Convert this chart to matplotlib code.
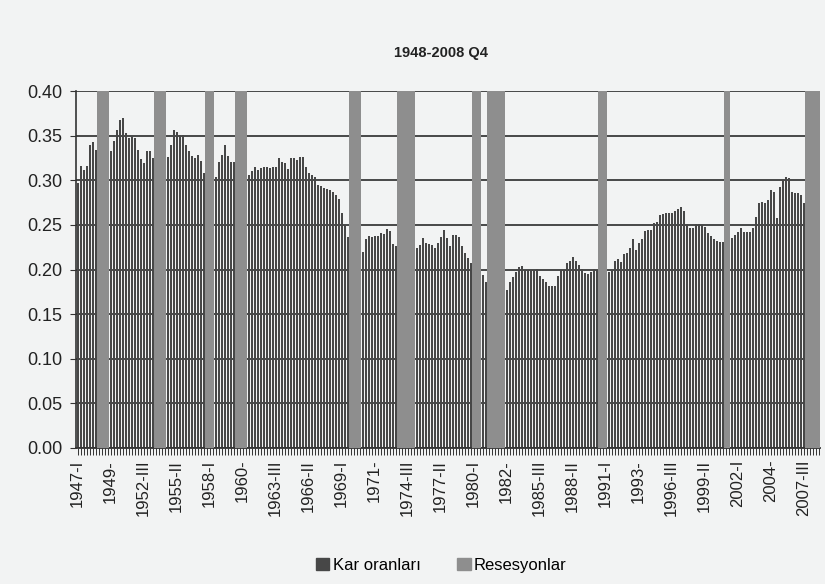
import matplotlib
matplotlib.use('Agg')
import matplotlib.pyplot as plt
from matplotlib.patches import Patch
import numpy as np

plt.rcParams['font.family'] = ['Liberation Sans', 'DejaVu Sans']

# profit share, quarterly 1947-I .. 2008-IV
kar_orani = [
    0.297, 0.316, 0.312, 0.316,  # 1947
    0.340, 0.343, 0.334, 0.338,  # 1948
    0.335, 0.330, 0.343, 0.333,  # 1949
    0.344, 0.356, 0.367, 0.370,  # 1950
    0.353, 0.347, 0.349, 0.347,  # 1951
    0.334, 0.324, 0.319, 0.333,  # 1952
    0.333, 0.325, 0.322, 0.318,  # 1953
    0.316, 0.318, 0.326, 0.340,  # 1954
    0.356, 0.354, 0.351, 0.351,  # 1955
    0.339, 0.333, 0.327, 0.325,  # 1956
    0.328, 0.322, 0.308, 0.300,  # 1957
    0.292, 0.295, 0.304, 0.321,  # 1958
    0.328, 0.340, 0.327, 0.321,  # 1959
    0.321, 0.306, 0.302, 0.298,  # 1960
    0.295, 0.306, 0.310, 0.315,  # 1961
    0.312, 0.314, 0.315, 0.315,  # 1962
    0.314, 0.315, 0.315, 0.325,  # 1963
    0.321, 0.319, 0.313, 0.325,  # 1964
    0.325, 0.323, 0.326, 0.326,  # 1965
    0.315, 0.308, 0.306, 0.304,  # 1966
    0.295, 0.293, 0.291, 0.290,  # 1967
    0.289, 0.287, 0.283, 0.279,  # 1968
    0.263, 0.250, 0.236, 0.230,  # 1969
    0.222, 0.218, 0.215, 0.220,  # 1970
    0.234, 0.237, 0.236, 0.237,  # 1971
    0.238, 0.241, 0.240, 0.245,  # 1972
    0.243, 0.229, 0.226, 0.216,  # 1973
    0.210, 0.205, 0.200, 0.195,  # 1974
    0.205, 0.224, 0.228, 0.235,  # 1975
    0.230, 0.229, 0.228, 0.224,  # 1976
    0.230, 0.236, 0.244, 0.235,  # 1977
    0.226, 0.239, 0.239, 0.236,  # 1978
    0.226, 0.218, 0.213, 0.207,  # 1979
    0.200, 0.192, 0.194, 0.194,  # 1980
    0.186, 0.180, 0.175, 0.172,  # 1981
    0.171, 0.170, 0.168, 0.177,  # 1982
    0.186, 0.192, 0.197, 0.203,  # 1983
    0.204, 0.199, 0.200, 0.200,  # 1984
    0.200, 0.201, 0.193, 0.189,  # 1985
    0.186, 0.182, 0.181, 0.181,  # 1986
    0.193, 0.199, 0.199, 0.207,  # 1987
    0.209, 0.214, 0.210, 0.205,  # 1988
    0.201, 0.196, 0.195, 0.197,  # 1989
    0.201, 0.199, 0.196, 0.195,  # 1990
    0.197, 0.197, 0.198, 0.210,  # 1991
    0.212, 0.208, 0.217, 0.218,  # 1992
    0.224, 0.234, 0.222, 0.230,  # 1993
    0.234, 0.243, 0.244, 0.244,  # 1994
    0.252, 0.253, 0.261, 0.262,  # 1995
    0.263, 0.263, 0.263, 0.266,  # 1996
    0.268, 0.270, 0.265, 0.251,  # 1997
    0.247, 0.246, 0.251, 0.251,  # 1998
    0.250, 0.248, 0.241, 0.237,  # 1999
    0.234, 0.232, 0.231, 0.231,  # 2000
    0.232, 0.233, 0.235, 0.239,  # 2001
    0.242, 0.246, 0.242, 0.242,  # 2002
    0.242, 0.246, 0.259, 0.274,  # 2003
    0.276, 0.274, 0.278, 0.289,  # 2004
    0.287, 0.258, 0.292, 0.300,  # 2005
    0.304, 0.303, 0.287, 0.286,  # 2006
    0.286, 0.283, 0.274, 0.270,  # 2007
    0.267, 0.260, 0.250, 0.240,  # 2008
]

# recession quarters as (year, quarter)
resesyon_donemleri = [
    (1948, 4), (1949, 1), (1949, 2), (1949, 3),
    (1953, 3), (1953, 4), (1954, 1), (1954, 2),
    (1957, 4), (1958, 1), (1958, 2),
    (1960, 2), (1960, 3), (1960, 4), (1961, 1),
    (1969, 4), (1970, 1), (1970, 2), (1970, 3),
    (1973, 4), (1974, 1), (1974, 2), (1974, 3), (1974, 4), (1975, 1),
    (1980, 1), (1980, 2), (1980, 3),
    (1981, 2), (1981, 3), (1981, 4), (1982, 1), (1982, 2), (1982, 3),
    (1990, 3), (1990, 4), (1991, 1),
    (2001, 1), (2001, 2),
    (2007, 4), (2008, 1), (2008, 2), (2008, 3), (2008, 4),
]
resesyon_yuksekligi = 0.40

roman = ['I', 'II', 'III', '']  # Q4 labels show only the dash in the source
years = range(1947, 2009)
quarter_labels = [f"{y}-{roman[q]}" for y in years for q in range(4)]

n = len(kar_orani)
x = np.arange(n)
rec_idx = [(y - 1947) * 4 + (q - 1) for y, q in resesyon_donemleri]
rec_vals = np.zeros(n)
rec_vals[rec_idx] = resesyon_yuksekligi

bg = '#f2f3f3'
dark = '#474747'
light = '#8e8e8e'

W, H = 825, 584
fig = plt.figure(figsize=(W / 100, H / 100), dpi=100, facecolor=bg)
# 3 px per quarter so the bar pattern stays regular
ax = fig.add_axes([76 / W, 136 / H, 744 / W, 357 / H])
ax.set_facecolor(bg)

ax.bar(x, kar_orani, width=2 / 3, color=dark, zorder=2)
ax.bar(x, rec_vals, width=1.0, color=light, zorder=3)

ax.set_ylim(0, 0.40)
ax.set_xlim(-0.5, n - 0.5)
yt = np.arange(0, 0.41, 0.05)
ax.set_yticks(yt)
ax.set_yticklabels([f"{v:.2f}" for v in yt], fontsize=13, color='#222222')
ax.yaxis.grid(True, color='#3a3a3a', linewidth=1.3, zorder=1)
ax.set_axisbelow(True)

major = list(range(0, n, 11))
ax.set_xticks(major)
ax.set_xticklabels([quarter_labels[i] for i in major], rotation=90, fontsize=12, color='#222222')
ax.set_xticks(x, minor=True)
ax.tick_params(axis='x', which='both', length=5, width=0.7, color='#333333', direction='out')
ax.tick_params(axis='y', length=4, color='#333333', pad=6)

for s in ['top', 'right']:
    ax.spines[s].set_visible(False)
ax.spines['left'].set_color('#333333')
ax.spines['bottom'].set_color('#333333')
ax.spines['left'].set_linewidth(1.2)
ax.spines['bottom'].set_linewidth(1.3)

fig.text(0.535, 0.91, '1948-2008 Q4', ha='center', va='center', fontsize=10.5, weight='bold', color='#222222')

handles = [Patch(color=dark, label='Kar oranları'), Patch(color=light, label='Resesyonlar')]
fig.legend(handles=handles, loc='center', bbox_to_anchor=(0.535, 0.032), ncol=2, frameon=False,
           fontsize=12, handlelength=0.8, handleheight=0.8, handletextpad=0.2, columnspacing=2.2)

fig.savefig('out.png', dpi=100, facecolor=bg)
